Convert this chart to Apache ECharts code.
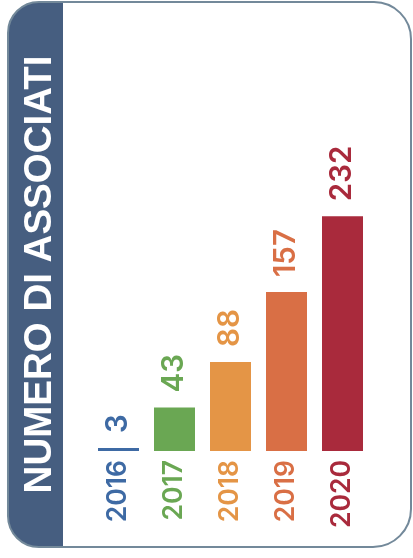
<!DOCTYPE html>
<html>
<head>
<meta charset="utf-8">
<script src="https://cdn.jsdelivr.net/npm/echarts@6/dist/echarts.min.js"></script>
<style>
  html, body { margin: 0; padding: 0; background: #ffffff; }
  #chart { width: 413px; height: 558px; }
</style>
</head>
<body>
<div id="chart"></div>
<script>
const title = 'NUMERO DI ASSOCIATI';
const categories = ['2016', '2017', '2018', '2019', '2020'];
const values = [3, 43, 88, 157, 232];
const barColors = ['#3e6aa4', '#6aa753', '#e49546', '#d96f45', '#a92a3c'];

const chart = echarts.init(document.getElementById('chart'), null, { renderer: 'canvas' });

const option = {
  animation: false,
  backgroundColor: '#ffffff',
  graphic: [
    { type: 'rect', z: 0, z2: 0, shape: { x: 8, y: 2, width: 403, height: 545, r: [31, 37, 38, 31] },
      style: { fill: '#ffffff' } },
    { type: 'rect', z: 0, z2: 1, shape: { x: 8, y: 2, width: 55, height: 545, r: [31, 0, 0, 31] },
      style: { fill: '#465e80' } },
    { type: 'rect', z: 0, z2: 2, shape: { x: 8, y: 2, width: 403, height: 545, r: [31, 37, 38, 31] },
      style: { fill: null, stroke: '#73899a', lineWidth: 2 } },
    { type: 'text', z: 0, z2: 3, x: 40, y: 274.5, rotation: Math.PI / 2,
      style: { text: title, fill: '#ffffff', fontFamily: 'Liberation Sans', fontWeight: 'bold', fontSize: 38.5,
               align: 'center', verticalAlign: 'middle' } }
  ],
  grid: { left: 90.5, right: 42.5, top: 198, bottom: 107, containLabel: false, outerBoundsMode: 'none' },
  xAxis: {
    type: 'category',
    data: categories,
    axisLine: { show: false },
    axisTick: { show: false },
    axisLabel: {
      rotate: 90,
      margin: 9,
      fontSize: 26.5,
      fontWeight: 600,
      fontFamily: 'Inter',
      interval: 0,
      color: function (val) { return barColors[categories.indexOf(val)]; }
    }
  },
  yAxis: { type: 'value', min: 0, max: 250, show: false },
  series: [{
    type: 'bar',
    barWidth: 41,
    data: values.map(function (v, i) {
      return {
        value: v,
        itemStyle: { color: barColors[i] },
        label: { color: barColors[i] }
      };
    }),
    label: {
      show: true,
      position: 'top',
      rotate: 90,
      align: 'left',
      verticalAlign: 'middle',
      distance: 15,
      fontSize: 29.5,
      fontWeight: 600,
      fontFamily: 'Inter'
    }
  }]
};

chart.setOption(option);
</script>
</body>
</html>
